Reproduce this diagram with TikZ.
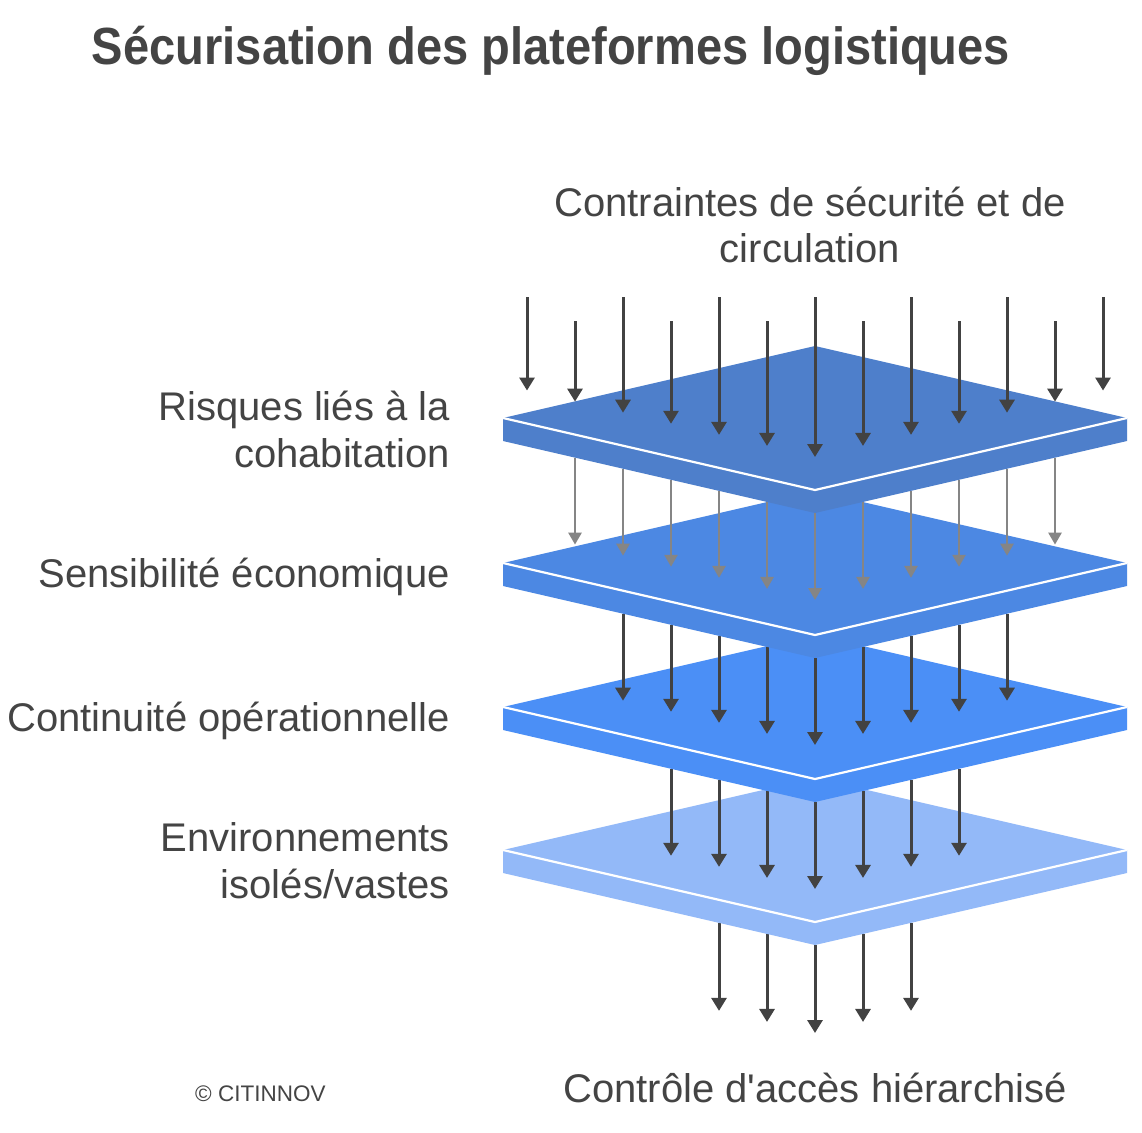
\documentclass[tikz,border=0pt]{standalone}
\usepackage{fontspec}
\setmainfont{Liberation Sans}
\newfontfamily\titlefont[FakeStretch=0.9]{Liberation Sans}
\usetikzlibrary{arrows.meta}
\definecolor{txt}{HTML}{444444}
\definecolor{arr}{HTML}{424242}
\definecolor{arrg}{HTML}{858585}
\definecolor{pA}{HTML}{4E7FCB}
\definecolor{pB}{HTML}{4C88E3}
\definecolor{pC}{HTML}{4B8FF6}
\definecolor{pD}{HTML}{93B9F8}
\newcommand\myplate[2]{%
  \fill[#2] (503,#1) -- (815,#1-72) -- (1127,#1) -- (1127,#1+23) -- (815,#1+95) -- (503,#1+23) -- cycle;
  \draw[white, line width=2.2pt, line join=miter] (503,#1) -- (815,#1+72) -- (1127,#1);
}
\newcommand\myarrows[4]{%
  \foreach \k in {-#1,...,#1} {
    \pgfmathsetmacro\xx{815+48*\k}
    \pgfmathsetmacro\ys{#2-11.08*abs(\k)}
    \pgfmathsetmacro\ye{#3-11.08*abs(\k)}
    \draw[#4] (\xx,\ys) -- (\xx,\ye);
  }
}
\tikzset{
  arrowline/.style={draw=arr, line width=3pt, -{Triangle[width=15pt,length=13pt]}, arr},
  grayline/.style={draw=arrg, line width=2.6pt, -{Triangle[width=13pt,length=12pt]}, arrg},
  label/.style={text=txt, inner sep=0pt, font=\fontsize{40}{47}\selectfont},
  title/.style={text=txt, inner sep=0pt, font=\titlefont\bfseries\fontsize{52.3}{60}\selectfont},
  credit/.style={text=txt, inner sep=0pt, font=\fontsize{22.5}{26}\selectfont}
}
\begin{document}
\begin{tikzpicture}[x=1pt,y=-1pt]
\useasboundingbox (0,0) rectangle (1142,1132);
\fill[white] (0,0) rectangle (1142,1132);

% bottom arrows (out of plate 4)
\myarrows{2}{945}{1033}{arrowline}
\myplate{850}{pD}
% arrows into plate 4
\myarrows{3}{802}{889}{arrowline}
\myplate{707}{pC}
% arrows into plate 3
\myarrows{4}{658}{745}{arrowline}
\myplate{563}{pB}
% gray arrows into plate 2
\myarrows{5}{513}{600}{grayline}
\myplate{418}{pA}
% top arrows into plate 1
\foreach \k in {-6,...,6} {
  \pgfmathsetmacro\xx{815+48*\k}
  \pgfmathsetmacro\ys{ifthenelse(mod(abs(\k),2)==1,321,297)}
  \pgfmathsetmacro\ye{457-11.08*abs(\k)}
  \draw[arrowline] (\xx,\ys) -- (\xx,\ye);
}

% texts
\node[title, anchor=base] (title) at (551,64) {Sécurisation des plateformes logistiques};
\node[label, anchor=base] (top1) at (810,216) {Contraintes de sécurité et de};
\node[label, anchor=base] (top2) at (810,262) {circulation};
\node[label, anchor=base east] (l1a) at (450,420) {Risques liés à la};
\node[label, anchor=base east] (l1b) at (450,467) {cohabitation};
\node[label, anchor=base east] (l2) at (450,587) {Sensibilité économique};
\node[label, anchor=base east] (l3) at (450,731) {Continuité opérationnelle};
\node[label, anchor=base east] (l4a) at (450,851) {Environnements};
\node[label, anchor=base east] (l4b) at (450,898) {isolés/vastes};
\node[label, anchor=base] (bottom) at (815,1102) {Contrôle d\textquotesingle accès hiérarchisé};
\node[credit, anchor=base west] (credit) at (195,1101) {© CITINNOV};
\end{tikzpicture}
\end{document}
